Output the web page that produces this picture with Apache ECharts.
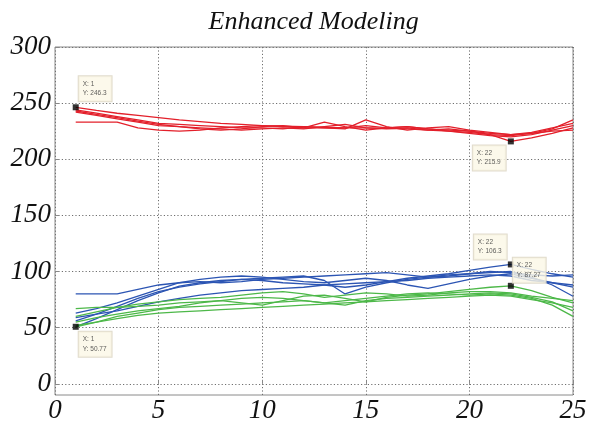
<!DOCTYPE html>
<html><head><meta charset="utf-8">
<script src="https://cdn.jsdelivr.net/npm/echarts@6/dist/echarts.min.js"></script>
<style>html,body{margin:0;padding:0;background:#fff}#c{width:597px;height:425px}</style>
</head><body><div id="c"></div>
<script>
const xValues = [1,2,3,4,5,6,7,8,9,10,11,12,13,14,15,16,17,18,19,20,21,22,23,24,25];
const yTicks = [0,50,100,150,200,250,300];
const xTicks = [0,5,10,15,20,25];

const red1 = [246.3,243.5,241,239,237,235,233.5,232,231,230,229.5,229,228.5,228,228,227.5,227,226,225,223,221,220,222,226,230];
const red2 = [243,240,237,234,231,229,228,227,226,227,228,227,229,231,228,227,228,226,227,225,222,215.9,219,223,228];
const red3 = [242,239,236,233,230,229,227,226,227,229,230,228,233,229,226,228,229,227,225,224,222,221,223,227,235];
const red4 = [244,241,238,235,232,231,230,229,228,228,227,229,228,227,235,229,226,228,229,226,224,222,223,225,226];
const red5 = [233,233,233,228,226,225,226,228,229,230,229,228,228,228,230,228,229,227,226,225,223,222,224,228,232];

const blue1 = [50.77,58,66,74,81,87,90,92,93,92,90,89,88,86,88,91,94,96,98,101,104,106.3,102,98,95];
const blue2 = [80,80,80,84,88,90,91,90,91,93,94,95,96,97,98,99,97,95,96,98,100,99,97,96,97];
const blue3 = [63,67,72,78,84,90,93,95,96,95,93,91,90,92,94,92,88,85,89,93,96,98,94,90,86];
const blue4 = [56,62,69,76,82,86,89,91,93,94,95,96,92,80,86,90,93,95,97,98,99,100,95,88,78];
const blue5 = [59,62,65,69,73,76,79,81,83,84,85,86,88,89,90,91,92,94,95,96,97,96,92,90,88];

const green1 = [67,68,68,69,70,72,73,74,72,70,74,78,79,76,73,77,79,80,82,84,86,87.27,83,77,72];
const green2 = [50.77,55,60,63,66,68,69,70,71,72,73,74,72,70,74,76,77,78,79,80,81,80,77,73,65];
const green3 = [60,64,68,71,73,75,76,77,79,81,82,80,77,79,81,80,78,79,81,82,82,81,78,76,74];
const green4 = [55,59,62,65,67,69,72,74,76,77,76,74,72,74,76,78,80,81,80,79,80,79,76,70,60];
const green5 = [52,55,58,61,63,64,65,66,67,68,69,70,71,72,73,74,75,76,77,78,79,78,75,72,68];

const tipX = [1, 22, 22, 22, 1];
const tipY = [246.3, 215.9, 106.3, 87.27, 50.77];
const tipText = ['X: 1\nY: 246.3', 'X: 22\nY: 215.9', 'X: 22\nY: 106.3', 'X: 22\nY: 87.27', 'X: 1\nY: 50.77'];

const tipPos = [[6,-28],[-35,7],[-34,-27],[5,-25],[6,8]];

const groups = [
  {color:'#e3202b', data:[red1,red2,red3,red4,red5]},
  {color:'#2c55b3', data:[blue1,blue2,blue3,blue4,blue5]},
  {color:'#4db849', data:[green1,green2,green3,green4,green5]}
];

const series = [];
groups.forEach(g => g.data.forEach(arr => {
  series.push({type:'line', data: xValues.map((x,i)=>[x,arr[i]]), showSymbol:false, symbol:'none',
    lineStyle:{color:g.color, width:1.3}, itemStyle:{color:g.color}, silent:true, z:2});
}));
series.push({
  type:'scatter', symbol:'rect', symbolSize:6, z:5,
  itemStyle:{color:'#000'},
  data: tipX.map((x,i)=>({value:[x,tipY[i]], label:{show:true, formatter: tipText[i], position: tipPos[i]}})),
  label:{show:true, fontSize:6.5, color:'#333', fontFamily:'Liberation Sans', lineHeight:9.5,
    backgroundColor:'#fbf7e6', borderColor:'#d8d2bf', borderWidth:1, padding:[3,5,3,4]}
});

const labelFont = {fontFamily:'Liberation Serif', fontStyle:'italic', fontSize:27, color:'#111'};

const chart = echarts.init(document.getElementById('c'), null, {renderer:'canvas'});
chart.setOption({
  animation:false,
  backgroundColor:'#fff',
  title:{text:'Enhanced Modeling', left:'51.7%', textAlign:'center', top:4,
    textStyle:{fontFamily:'Liberation Serif', fontStyle:'italic', fontWeight:'normal', fontSize:26, color:'#111'}},
  grid:{left:55, right:24, top:47, bottom:30, show:true, borderColor:'#8a8a8a', borderWidth:1, backgroundColor:'transparent'},
  xAxis:{type:'value', min:0, max:25, interval:5,
    axisLine:{show:false}, axisTick:{show:true, inside:true, length:4, lineStyle:{color:'#888'}},
    axisLabel:Object.assign({margin:2}, labelFont),
    splitLine:{show:true, lineStyle:{color:'#6f6f6f', type:[1.2,2.2], width:1}}},
  yAxis:{type:'value', min:-10, max:300,
    axisLine:{show:false},
    axisTick:{show:true, inside:true, length:4, customValues: yTicks, lineStyle:{color:'#888'}},
    axisLabel:Object.assign({margin:4, customValues: yTicks}, labelFont),
    splitLine:{show:true, lineStyle:{color:'#6f6f6f', type:[1.2,2.2], width:1}}},
  series: series
});
</script></body></html>
